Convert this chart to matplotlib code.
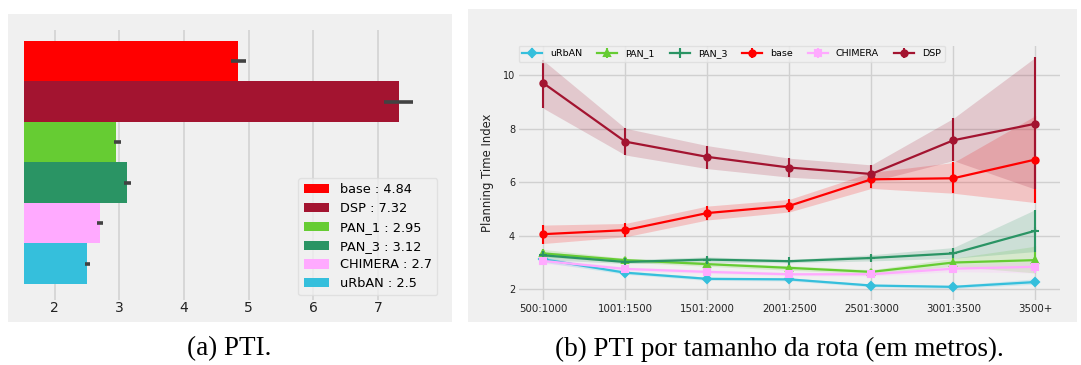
import numpy as np
import matplotlib.pyplot as plt
from matplotlib.patches import Rectangle

# dados - painel (a)
methods = ['base', 'DSP', 'PAN_1', 'PAN_3', 'CHIMERA', 'uRbAN']
pti_mean = [4.84, 7.32, 2.95, 3.12, 2.7, 2.5]
pti_lo = [4.72, 7.09, 2.91, 3.07, 2.65, 2.47]
pti_hi = [4.96, 7.54, 3.02, 3.18, 2.75, 2.54]
colors = {'base': '#FF0000', 'DSP': '#A31430', 'PAN_1': '#66CC33',
          'PAN_3': '#2A9464', 'CHIMERA': '#FFAAFF', 'uRbAN': '#35BFDC'}

# dados - painel (b)
routes = ['500:1000', '1001:1500', '1501:2000', '2001:2500', '2501:3000', '3001:3500', '3500+']
line_order = ['uRbAN', 'PAN_1', 'PAN_3', 'base', 'CHIMERA', 'DSP']
markers = {'uRbAN': 'D', 'PAN_1': '^', 'PAN_3': '+', 'base': 'o', 'CHIMERA': 's', 'DSP': 'o'}

urban_y = [3.11, 2.61, 2.38, 2.36, 2.13, 2.08, 2.26]
urban_lo = [3.0, 2.55, 2.32, 2.30, 2.08, 2.02, 2.18]
urban_hi = [3.2, 2.68, 2.44, 2.42, 2.18, 2.14, 2.38]

pan1_y = [3.33, 3.08, 2.93, 2.79, 2.64, 2.99, 3.08]
pan1_lo = [3.2, 3.0, 2.85, 2.7, 2.57, 2.85, 2.6]
pan1_hi = [3.48, 3.15, 3.0, 2.87, 2.72, 3.15, 3.6]

pan3_y = [3.26, 3.01, 3.10, 3.04, 3.16, 3.33, 4.18]
pan3_lo = [3.1, 2.95, 3.0, 2.98, 3.05, 3.15, 3.4]
pan3_hi = [3.4, 3.1, 3.2, 3.1, 3.28, 3.55, 4.97]

base_y = [4.05, 4.2, 4.84, 5.11, 6.1, 6.14, 6.84]
base_lo = [3.7, 3.95, 4.58, 4.88, 5.76, 5.58, 5.23]
base_hi = [4.39, 4.45, 5.1, 5.35, 6.36, 6.73, 8.48]

chim_y = [3.05, 2.75, 2.64, 2.55, 2.55, 2.76, 2.83]
chim_lo = [2.95, 2.68, 2.58, 2.5, 2.48, 2.65, 2.6]
chim_hi = [3.15, 2.82, 2.72, 2.62, 2.62, 2.88, 3.05]

dsp_y = [9.7, 7.51, 6.94, 6.54, 6.3, 7.56, 8.18]
dsp_lo = [8.76, 7.01, 6.5, 6.18, 6.01, 6.8, 5.73]
dsp_hi = [10.55, 8.01, 7.36, 6.89, 6.64, 8.38, 10.66]

series = {
    'uRbAN': (urban_y, urban_lo, urban_hi),
    'PAN_1': (pan1_y, pan1_lo, pan1_hi),
    'PAN_3': (pan3_y, pan3_lo, pan3_hi),
    'base': (base_y, base_lo, base_hi),
    'CHIMERA': (chim_y, chim_lo, chim_hi),
    'DSP': (dsp_y, dsp_lo, dsp_hi),
}

W, H = 1081, 365
BG = '#f0f0f0'
GRID = '#d0d0d0'

fig = plt.figure(figsize=(W / 100, H / 100), dpi=100)
fig.patch.set_facecolor('white')


def px(x0, y0, x1, y1):
    # caixa em pixels (topo-esquerda) -> coordenadas da figura
    return [x0 / W, 1 - y1 / H, (x1 - x0) / W, (y1 - y0) / H]


for r in (px(8, 14, 452, 322), px(468, 9, 1077, 322)):
    fig.patches.append(Rectangle((r[0], r[1]), r[2], r[3], transform=fig.transFigure,
                                 facecolor=BG, edgecolor='none', zorder=-10))

# painel (a)
ax1 = fig.add_axes(px(24, 30, 442, 300))
ax1.set_facecolor(BG)
ypos = np.arange(len(methods))
for i, m in enumerate(methods):
    ax1.barh(ypos[i], pti_mean[i], height=1.0, color=colors[m],
             label=f'{m} : {pti_mean[i]}', zorder=2)
    ax1.plot([pti_lo[i], pti_hi[i]], [ypos[i], ypos[i]], color='#424242', lw=2.6,
             solid_capstyle='butt', zorder=3)
ax1.set_xlim(1.525, 7.99)
ax1.set_ylim(5.9, -0.77)
ax1.set_xticks([2, 3, 4, 5, 6, 7])
ax1.set_yticks([])
ax1.grid(axis='x', color=GRID, lw=1.1, zorder=0)
ax1.set_axisbelow(True)
ax1.tick_params(axis='x', length=0, pad=1, labelsize=10, labelcolor='#222222')
for s in ax1.spines.values():
    s.set_visible(False)
leg1 = ax1.legend(loc='lower right', fontsize=9.3, borderaxespad=0.35,
                  handletextpad=0.85, labelspacing=0.45, fancybox=True)
leg1.get_frame().set_facecolor(BG)
leg1.get_frame().set_edgecolor('#dddddd')

# painel (b)
ax2 = fig.add_axes(px(518.6, 45.6, 1060, 299.7))
ax2.set_facecolor(BG)
x = np.arange(len(routes))
for m in line_order:
    yv, lo, hi = series[m]
    yv, lo, hi = np.array(yv), np.array(lo), np.array(hi)
    c = colors[m]
    ax2.fill_between(x, lo, hi, color=c, alpha=0.18, lw=0, zorder=2)
    ax2.errorbar(x, yv, yerr=[yv - lo, hi - yv], color=c, ecolor=c, lw=1.6,
                 elinewidth=1.5, capsize=0, marker=markers[m],
                 markersize=4.5 if markers[m] != '+' else 6, mew=1.5, label=m, zorder=3)
ax2.set_xlim(-0.3, 6.3)
ax2.set_ylim(1.6, 11.1)
ax2.set_xticks(x)
ax2.set_xticklabels(routes)
ax2.set_yticks([2, 4, 6, 8, 10])
ax2.grid(True, color=GRID, lw=1.0, zorder=0)
ax2.set_axisbelow(True)
ax2.tick_params(axis='both', length=0, labelsize=7, labelcolor='#222222')
ax2.tick_params(axis='x', pad=3, labelsize=7.4)
ax2.tick_params(axis='y', pad=2.5)
for s in ax2.spines.values():
    s.set_visible(False)
ax2.set_ylabel('Planning Time Index', fontsize=8.4, color='#222222')
ax2.yaxis.set_label_coords(-0.045, 0.5)
leg2 = ax2.legend(loc='upper left', ncol=6, fontsize=6.8, borderaxespad=0.0,
                  handlelength=2.1, handletextpad=0.85, columnspacing=1.6, fancybox=True)
leg2.get_frame().set_facecolor(BG)
leg2.get_frame().set_edgecolor('#dddddd')

# legendas das figuras
fig.text(229 / W, 1 - 349 / H, '(a) PTI.', ha='center', va='center',
         family='Liberation Serif', fontsize=19.5)
fig.text(779 / W, 1 - 349 / H, '(b) PTI por tamanho da rota (em metros).', ha='center',
         va='center', family='Liberation Serif', fontsize=19.5)

fig.savefig('out.png', dpi=100, facecolor='white')
